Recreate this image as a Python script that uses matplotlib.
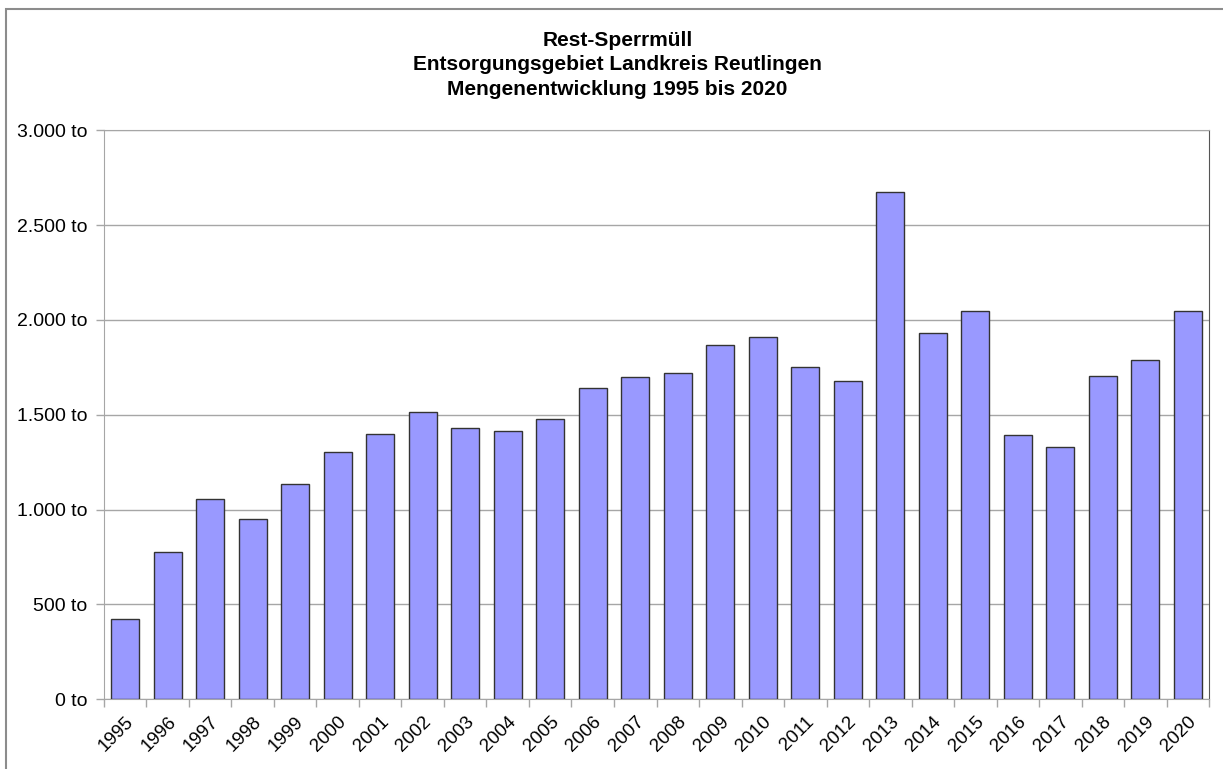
import numpy as np
import matplotlib.pyplot as plt
from matplotlib.patches import Rectangle
from matplotlib.ticker import FuncFormatter

plt.rcParams['font.family'] = ['Liberation Sans', 'DejaVu Sans']

# Jahresmengen Rest-Sperrmüll in Tonnen
jahre = ['1995', '1996', '1997', '1998', '1999', '2000', '2001', '2002', '2003',
         '2004', '2005', '2006', '2007', '2008', '2009', '2010', '2011', '2012',
         '2013', '2014', '2015', '2016', '2017', '2018', '2019', '2020']
mengen = [423, 778, 1057, 950, 1133, 1305, 1398, 1516, 1431,
          1414, 1479, 1639, 1697, 1720, 1870, 1912, 1752, 1676,
          2674, 1929, 2047, 1391, 1328, 1703, 1789, 2047]
y_ticks = [0, 500, 1000, 1500, 2000, 2500, 3000]

fig = plt.figure(figsize=(12.23, 7.69), dpi=100)
ax = fig.add_axes([0.085, 0.0906, 0.9036, 0.74])

x = np.arange(len(jahre))
ax.bar(x, mengen, width=0.66, color='#9999ff', edgecolor='#333333',
       linewidth=1.0, zorder=3)

ax.set_xlim(-0.5, len(jahre) - 0.5)
ax.set_ylim(0, 3000)
ax.set_yticks(y_ticks)
ax.yaxis.set_major_formatter(FuncFormatter(
    lambda v, p: f'{int(v):,} to'.replace(',', '.')))
ax.yaxis.grid(True, color='#a6a6a6', linewidth=1.0, zorder=0)

# Jahreszahlen schräg, Teilstriche zwischen den Säulen
ax.set_xticks(x)
ax.set_xticklabels(jahre, rotation=45, ha='right', rotation_mode='anchor')
ax.set_xticks(np.arange(-0.5, len(jahre)), minor=True)
ax.tick_params(axis='x', which='major', length=0, pad=10, labelsize=13.5)
ax.tick_params(axis='x', which='minor', length=6, color='#a6a6a6', width=1)
ax.tick_params(axis='y', length=6, color='#a6a6a6', width=1, labelsize=14, pad=6)

for s in ['left', 'bottom', 'top']:
    ax.spines[s].set_color('#a6a6a6')
ax.spines['right'].set_color('#555555')

fig.text(0.505, 0.9155, 'Rest-Sperrmüll\nEntsorgungsgebiet Landkreis Reutlingen\n'
         'Mengenentwicklung 1995 bis 2020', ha='center', va='center',
         fontsize=15, fontweight='bold', linespacing=1.38)

# Rahmen um das Diagramm
fig.patches.append(Rectangle((6 / 1223, -0.01), 1.0, 1 - 9 / 769 + 0.01,
                             transform=fig.transFigure, fill=False,
                             edgecolor='#8c8c8c', linewidth=1.5))

fig.savefig('out.png', dpi=100)
